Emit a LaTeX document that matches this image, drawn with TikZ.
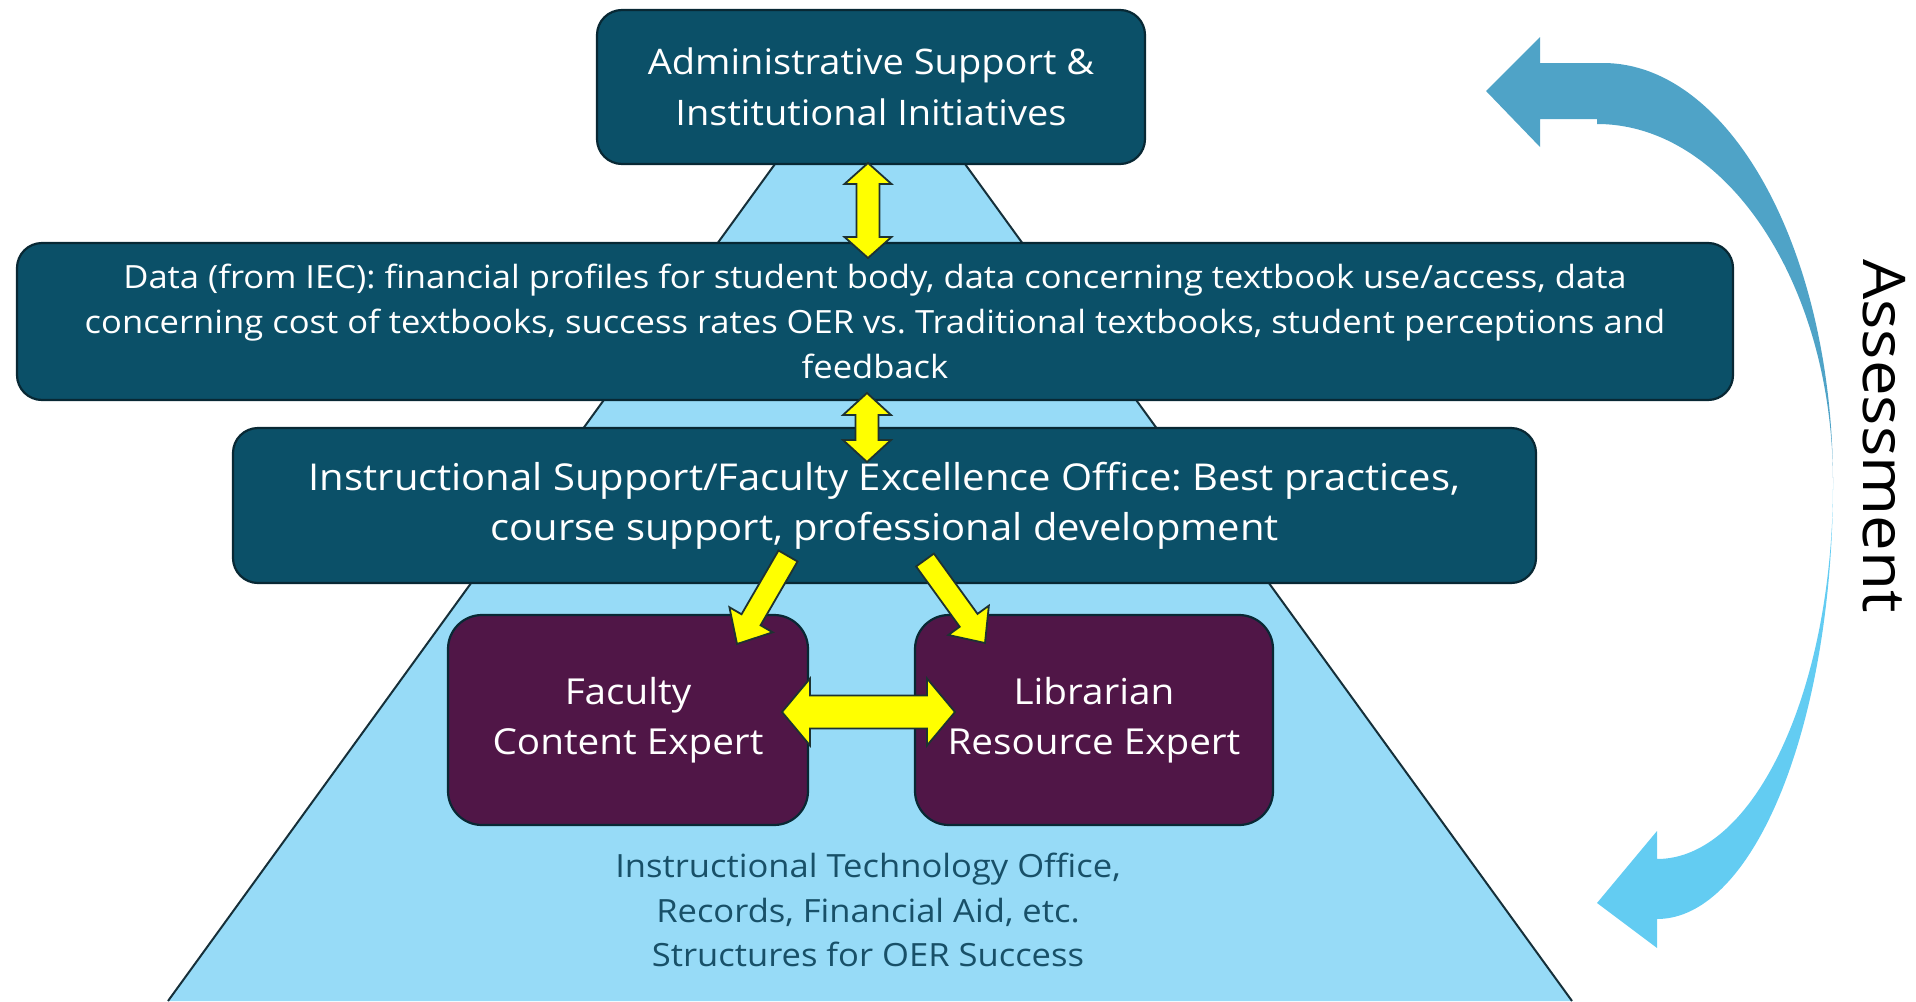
\documentclass[tikz,border=0pt]{standalone}
\usepackage{fontspec}
\setmainfont[FakeStretch=1.08]{Open Sans}
\usetikzlibrary{calc}
\frenchspacing
\definecolor{boxteal}{RGB}{11,80,104}
\definecolor{boxedge}{RGB}{8,40,52}
\definecolor{plum}{RGB}{80,22,71}
\definecolor{pyr}{RGB}{151,219,247}
\definecolor{pyredge}{RGB}{22,48,58}
\definecolor{txtteal}{RGB}{24,80,104}
\definecolor{asmdark}{RGB}{79,163,199}
\definecolor{asmlight}{RGB}{99,204,242}
\definecolor{yel}{RGB}{255,255,0}
\definecolor{yedge}{RGB}{30,50,50}
\newcommand{\yelarrow}[5]{% tail, tip, shaft half, head half, head length
  \coordinate (ah) at ($(#2)!#5!(#1)$);
  \filldraw[yelstyle] ($(#1)!#3!90:(#2)$) -- ($(ah)!#3!90:(#2)$) -- ($(ah)!#4!90:(#2)$) -- (#2)
    -- ($(ah)!#4!-90:(#2)$) -- ($(ah)!#3!-90:(#2)$) -- ($(#1)!#3!-90:(#2)$) -- cycle;}
\newcommand{\yeldblarrow}[5]{% end A, end B, shaft half, head half, head length
  \coordinate (ha) at ($(#1)!#5!(#2)$);
  \coordinate (hb) at ($(#2)!#5!(#1)$);
  \filldraw[yelstyle] (#1) -- ($(ha)!#4!90:(#2)$) -- ($(ha)!#3!90:(#2)$) -- ($(hb)!#3!90:(#2)$)
    -- ($(hb)!#4!90:(#2)$) -- (#2) -- ($(hb)!#4!-90:(#2)$) -- ($(hb)!#3!-90:(#2)$)
    -- ($(ha)!#3!-90:(#2)$) -- ($(ha)!#4!-90:(#2)$) -- cycle;}
\begin{document}
\begin{tikzpicture}[x=0.5pt,y=-0.5pt,
  tealbox/.style={draw=boxedge, line width=1.1pt, fill=boxteal, rounded corners=12.5pt, text=white, align=center, inner sep=0pt},
  plumbox/.style={draw=boxedge, line width=1.1pt, fill=plum, rounded corners=17pt, text=white, align=center, inner sep=0pt},
  yelstyle/.style={draw=yedge, fill=yel, line width=0.9pt, line join=miter},
  fbig/.style={font=\fontsize{17.6}{25.5}\selectfont},
  fdata/.style={font=\fontsize{16}{22.5}\selectfont},
  finstr/.style={font=\fontsize{18.5}{25}\selectfont},
  fexp/.style={font=\fontsize{17.9}{25}\selectfont},
]
\useasboundingbox (0,0) rectangle (1916,1001);
% pyramid
\filldraw[fill=pyr, draw=pyredge, line width=1pt] (168,1001) -- (870,33) -- (1572,1001);
% boxes
\node[tealbox, fbig, minimum width=274pt, minimum height=77pt] (admin) at (871,87)
  {Administrative Support \&\\Institutional Initiatives};
\node[tealbox, fdata, minimum width=858pt, minimum height=78.5pt] (data) at (875,321.5)
  {Data (from IEC): financial profiles for student body, data concerning textbook use/access, data\\
   concerning cost of textbooks, success rates OER vs. Traditional textbooks, student perceptions and\\
   feedback};
\node[tealbox, finstr, minimum width=651.5pt, minimum height=77.5pt] (instr) at (884.5,505.5)
  {Instructional Support/Faculty Excellence Office: Best practices,\\course support, professional development};
\node[plumbox, fexp, minimum width=180pt, minimum height=105pt] (fac) at (628,720)
  {Faculty\\Content Expert};
\node[plumbox, fexp, minimum width=179pt, minimum height=105pt] (lib) at (1094,720)
  {Librarian\\Resource Expert};
\node[text=txtteal, align=center, font=\fontsize{16}{22.3}\selectfont] (base) at (868,910)
  {Instructional Technology Office,\\Records, Financial Aid, etc.\\Structures for OER Success};
% yellow arrows
\coordinate (v1a) at (868,163);
\coordinate (v1b) at (868,258);
\coordinate (v2a) at (867,393);
\coordinate (v2b) at (867,462);
\coordinate (ha1) at (782,712);
\coordinate (hb1) at (955,712);
\coordinate (dla) at (788,556);
\coordinate (dlb) at (737,644);
\coordinate (dra) at (925,560);
\coordinate (drb) at (985,643);
\yeldblarrow{v1a}{v1b}{5.75pt}{11.75pt}{10.5pt}
\yeldblarrow{v2a}{v2b}{5.75pt}{12pt}{11pt}
\yeldblarrow{ha1}{hb1}{8.25pt}{16.75pt}{14pt}
\yelarrow{dla}{dlb}{5.5pt}{12.5pt}{14pt}
\yelarrow{dra}{drb}{5.5pt}{12.5pt}{14pt}
% assessment arrow
\fill[asmdark] (1486,91) -- (1540,37) -- (1540,63) -- (1603,63)
  .. controls (1730,63) and (1833,251) .. (1833,483)
  .. controls (1833,285) and (1727,124) .. (1597,124)
  -- (1597,119) -- (1540,119) -- (1540,147) -- cycle;
\fill[asmlight] (1833,483)
  .. controls (1833,724) and (1754,919) .. (1657,919)
  -- (1657,948) -- (1597,903) -- (1657,831) -- (1657,859)
  .. controls (1754,859) and (1833,691) .. (1833,483)
  -- cycle;
\node[rotate=-90, font=\fontsize{29.4}{30}\selectfont, text=black] (asm) at (1884,436) {Assessment};
\end{tikzpicture}
\end{document}
